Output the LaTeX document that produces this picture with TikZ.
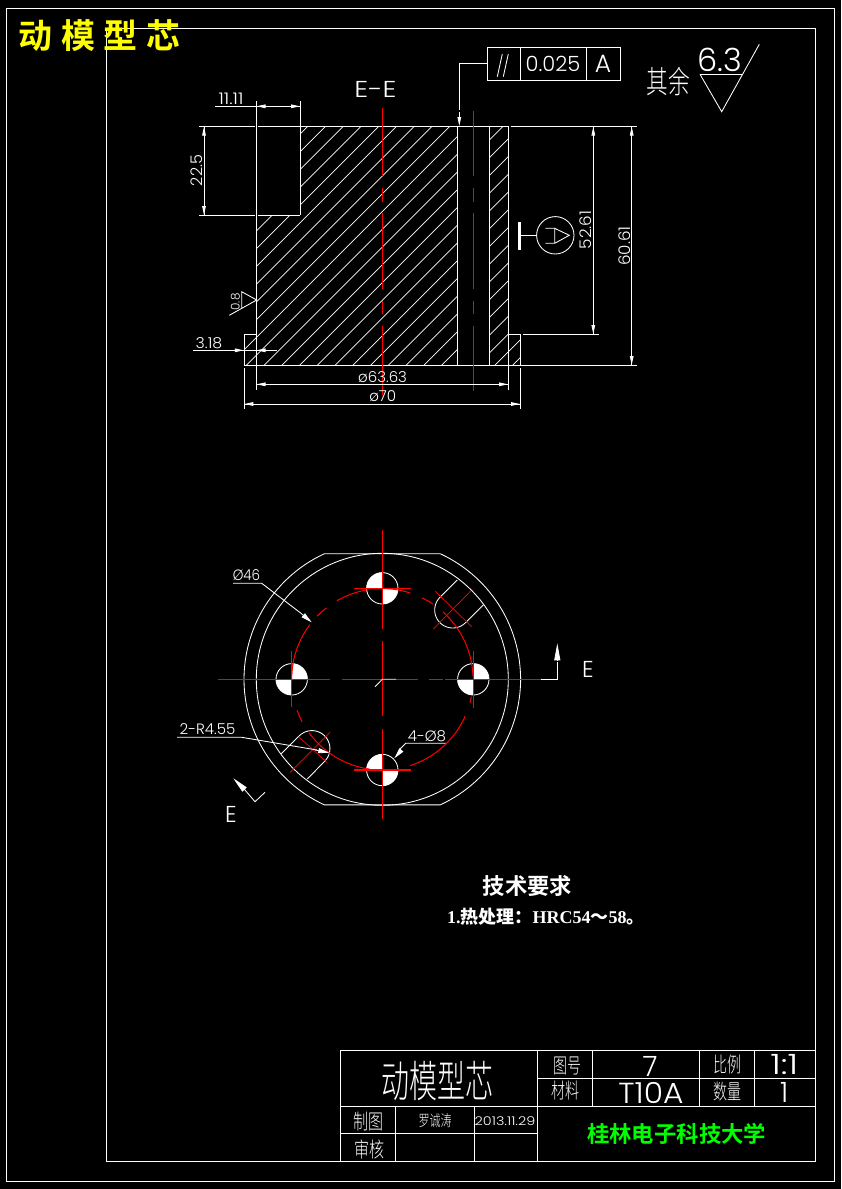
\documentclass[tikz,border=0pt]{standalone}
\usepackage{fontspec}
\usepackage{graphicx}
\usetikzlibrary{arrows.meta}
\newfontfamily\cad{Poppins Light}
\newfontfamily\cjkthin{Noto Sans CJK SC Light}
\newfontfamily\cjkbold{Noto Sans CJK SC Bold}
\newfontfamily\serifb{Liberation Serif}
\newcommand{\Fs}[1]{\fontsize{#1}{#1}\selectfont}
\newcommand{\Tx}[4]{\scalebox{#2}[#3]{\Fs{#1}#4}}
\newcommand{\RedArc}[2]{\draw[cthin] plot[domain=#1:#2,samples=30] ({382.3+90.7*cos(\x)},{679.3+90.7*sin(\x)});}
\newcommand{\Pie}[3]{\fill[white] (#1,#2) -- plot[domain=#3:#3+90,samples=16] ({#1+15.7*cos(\x)},{#2+15.7*sin(\x)}) -- cycle;}
\definecolor{cadred}{RGB}{255,0,0}
\definecolor{cadyellow}{RGB}{255,255,0}
\definecolor{cadgreen}{RGB}{0,255,0}
\tikzset{
  cadline/.style={white,line width=0.95pt},
  thinline/.style={white,line width=0.85pt},
  hatchline/.style={white,line width=0.7pt},
  dimline/.style={white,line width=0.9pt},
  cline/.style={cadred,line width=1.6pt},
  cthin/.style={cadred,line width=1pt},
  dimhead/.style={white,line width=0.9pt,-{Triangle[length=9pt,width=3.6pt]}},
  longhead/.style={white,line width=0.8pt,-{Triangle[length=11pt,width=5pt]}},
  cadtext/.style={white,inner sep=0pt,outer sep=0pt,font=\cad},
  cjktext/.style={white,inner sep=0pt,outer sep=0pt,font=\cjkthin},
}
\begin{document}
\begin{tikzpicture}[x=1pt,y=-1pt]
\useasboundingbox (0,0) rectangle (841,1189);
\fill[black] (0,0) rectangle (841,1189);
% frames
\draw[cadline] (6.5,8) rectangle (834,1181);
\draw[cadline] (106,28) rectangle (815,1161);
% hatch
\begin{scope}
\clip (300,126.3) -- (457.3,126.3) -- (457.3,365.3) -- (244,365.3) -- (244,334.3) -- (256.3,334.3) -- (256.3,215.3) -- (300.3,215.3) -- cycle
      (489.3,126.3) -- (508.3,126.3) -- (508.3,334.3) -- (520.3,334.3) -- (520.3,365.3) -- (489.3,365.3) -- cycle;
\foreach \n in {-1,...,27}{
  \pgfmathsetmacro{\kk}{434+17.75*\n}
  \draw[hatchline] ({\kk-400},400) -- ({\kk-100},100);
}
\end{scope}
% section outline
\draw[cadline] (199,126.3) -- (255,126.3) (257.5,126.3) -- (508.3,126.3) (510.5,126.3) -- (637,126.3);
\draw[cadline] (199,215.3) -- (255,215.3) (257.5,215.3) -- (300.3,215.3);
\draw[cadline] (256.3,101) -- (256.3,389.5);
\draw[cadline] (300.3,101) -- (300.3,215.3);
\draw[cadline] (457.3,126.3) -- (457.3,365.3);
\draw[cadline] (489.3,126.3) -- (489.3,365.3);
\draw[cadline] (508.3,126.3) -- (508.3,389.5);
\draw[cadline] (520.3,334.3) -- (520.3,365.3) (520.3,368) -- (520.3,409);
\draw[cadline] (244,334.3) -- (244,365.3) (244,368) -- (244,409);
\draw[cadline] (244,334.3) -- (256.3,334.3) (508.3,334.3) -- (520.3,334.3) (523,334.3) -- (599,334.3);
\draw[cadline] (244,365.3) -- (637,365.3);
% centre lines of the section
\draw[cline] (382.3,108) -- (382.3,175.7) (382.3,188) -- (382.3,201.7) (382.3,213) -- (382.3,289) (382.3,301) -- (382.3,313.7) (382.3,326) -- (382.3,395);
\draw[cthin] (473.3,111) -- (473.3,175.7) (473.3,188) -- (473.3,201.7) (473.3,213) -- (473.3,288.7) (473.3,301) -- (473.3,314) (473.3,326) -- (473.3,390.7);
% dimensions
\draw[dimline] (215,106.3) -- (300.3,106.3);
\draw[dimhead] (270,106.3) -- (256.5,106.3);
\draw[dimhead] (287,106.3) -- (300,106.3);
\node[cadtext] (d1111) at (231,98.5) {\Tx{16}{1.15}{1}{11.11}};
\draw[dimline] (204,126.3) -- (204,215.3);
\draw[dimhead] (204,140) -- (204,126.6);
\draw[dimhead] (204,201) -- (204,215);
\node[cadtext,rotate=90] (d225) at (197,170.5) {\Tx{16}{1}{1}{22.5}};
\draw[dimline] (193,350.3) -- (277,350.3);
\draw[dimhead] (231,350.3) -- (243.8,350.3);
\draw[dimhead] (269,350.3) -- (256.5,350.3);
\node[cadtext] (d318) at (209,343) {\Tx{15}{1.05}{1}{3.18}};
\draw[dimline] (256.3,384.3) -- (508.3,384.3);
\draw[dimhead] (270,384.3) -- (256.5,384.3);
\draw[dimhead] (495,384.3) -- (508,384.3);
\node[cadtext] (d6363) at (382.6,377.5) {\Tx{15}{1}{1}{ø63.63}};
\draw[dimline] (244,404) -- (520.3,404);
\draw[dimhead] (258,404) -- (244.3,404);
\draw[dimhead] (507,404) -- (520,404);
\node[cadtext] (d70) at (382.7,396.5) {\Tx{15}{1}{1}{ø70}};
\draw[dimline] (593.3,126.3) -- (593.3,334.3);
\draw[dimhead] (593.3,140) -- (593.3,126.6);
\draw[dimhead] (593.3,321) -- (593.3,334);
\node[cadtext,rotate=90] (d5261) at (586,230) {\Tx{16}{1.05}{1}{52.61}};
\draw[dimline] (631.7,126.3) -- (631.7,365.3);
\draw[dimhead] (631.7,140) -- (631.7,126.6);
\draw[dimhead] (631.7,352) -- (631.7,365);
\node[cadtext,rotate=90] (d6061) at (625,246) {\Tx{16}{1.05}{1}{60.61}};
\node[cadtext] (ee) at (375.5,89) {\Tx{23}{1.2}{1}{E-E}};
% tolerance frame
\draw[cadline] (487.3,47.3) rectangle (620.3,80.3);
\draw[cadline] (520.3,47.3) -- (520.3,80.3) (586.3,47.3) -- (586.3,80.3);
\draw[thinline] (497.3,76.7) -- (502.3,54) (503.3,76.7) -- (508.3,54);
\node[cadtext] (tolv) at (553,63.5) {\Tx{21}{1}{1}{0.025}};
\node[cadtext] (tola) at (603,63.5) {\Tx{25}{1}{1}{A}};
\draw[cadline] (487.3,63.3) -- (459.3,63.3) -- (459.3,110);
\draw[dimhead] (459.3,112) -- (459.3,126);
% roughness
\node[cjktext] (qiyu) at (668,82) {\Tx{24}{0.9}{1.3}{其余}};
\node[cadtext] (r63) at (720,60) {\Tx{32}{1}{1}{6.3}};
\draw[thinline] (700,74.3) -- (741.7,74.3);
\draw[thinline] (700,74.3) -- (721.7,111.7) -- (759.3,44.3);
% local roughness 0.8
\node[cadtext,rotate=90] (r08) at (235.5,302) {\Tx{12}{1}{1}{0.8}};
\draw[thinline] (229.3,315.3) -- (256.7,300) -- (241.7,291.7) -- (241.7,308.3);
% datum symbol
\draw[line width=3pt,white] (519.3,222) -- (519.3,250);
\draw[thinline] (519.3,235.3) -- (536.6,235.3);
\draw[thinline] (555.3,235.3) circle (18.7);
\draw[thinline] (545.3,228.3) -- (554.7,228.3) -- (569.3,235.3) -- (554.7,243.3) -- (545.3,243.3) (554.7,228.3) -- (554.7,243.3);
% plan view
\draw[thinline] plot[domain=-65.2:65.2,samples=60] ({382.3+138.3*cos(\x)},{679.3+138.3*sin(\x)}) -- plot[domain=114.8:245.2,samples=60] ({382.3+138.3*cos(\x)},{679.3+138.3*sin(\x)}) -- cycle;
\draw[thinline] (382.3,679.3) circle (126);
\foreach \cx/\cy/\aa/\ab in {382.3/588.3/180/0, 382.3/770/180/0, 291.7/679.3/270/90, 473.3/679.3/270/90}{
  \Pie{\cx}{\cy}{\aa}
  \Pie{\cx}{\cy}{\ab}
  \draw[thinline] (\cx,\cy) circle (15.7);
}
% slots
\draw[thinline] (457.3,580) -- (440,597.3) -- plot[domain=225:45,samples=30] ({452.7+18*cos(\x)},{610+18*sin(\x)}) -- (483.3,605);
\draw[thinline] (281.3,753.6) -- (299.2,735.9) -- plot[domain=225:405,samples=30] ({311.9+18*cos(\x)},{748.6+18*sin(\x)}) -- (307.3,779);
% red
\draw[cline] (382.3,530) -- (382.3,629.3) (382.3,641) -- (382.3,716) (382.3,729.3) -- (382.3,819.3);
\draw[cline,line width=1.2pt] (218,679.3) -- (330,679.3) (342,679.3) -- (382.3,679.3) (396,679.3) -- (418,679.3) (429,679.3) -- (442.7,679.3) (445,679.3) -- (541,679.3);
\draw[cline,line width=1.2pt] (354,588.3) -- (410.7,588.3) (354,770) -- (410.7,770);
\draw[cthin] (291.7,651) -- (291.7,706.7) (473.3,651) -- (473.3,708);
\RedArc{-100}{-120}
\RedArc{-128}{-136}
\RedArc{-143}{-178}
\RedArc{-72}{-90}
\RedArc{-64}{-56}
\RedArc{-48}{-2}
\RedArc{11}{15}
\RedArc{24}{72}
\RedArc{98}{144}
\RedArc{152}{160}
\RedArc{178}{190}
\draw[cthin,line width=0.7pt] (435,591) -- (471.7,626.7) (433.3,629) -- (471,590.7);
\draw[cthin,line width=0.7pt] (290,772.3) -- (330,732.3) (299.3,737.3) -- (327.3,762.7);
% white centre marks and section arrows
\draw[thinline] (375,686.7) -- (382.3,679.3) -- (396,679.3);
\draw[cadline] (541,679.3) -- (557.3,679.3) -- (557.3,662);
\draw[longhead,-{Triangle[length=17pt,width=6pt]}] (557.3,660) -- (557.3,643.3);
\node[cadtext] (eright) at (588,669) {\Tx{23}{1}{1}{E}};
\draw[thinline] (265,792.3) -- (255,801.7) -- (245,790);
\draw[longhead,-{Triangle[length=16pt,width=6pt]}] (245,790) -- (233.3,778.3);
\node[cadtext] (eleft) at (231,814) {\Tx{23}{1}{1}{E}};
% leaders
\node[cadtext] (l46) at (246.5,575.5) {\Tx{15}{0.9}{1}{Ø46}};
\draw[thinline] (233,583.3) -- (261.7,583.3) -- (300,612.5);
\draw[longhead] (300,612.5) -- (311.7,622.3);
\node[cadtext] (l455) at (207.5,729.5) {\Tx{15}{1}{1}{2-R4.55}};
\draw[thinline] (177,737.3) -- (241.7,737.3) -- (317,750);
\draw[longhead] (315,750) -- (329.3,752.7);
\node[cadtext] (l8) at (427,736) {\Tx{15}{1}{1}{4-Ø8}};
\draw[thinline] (445.7,743.3) -- (405.7,743.3) -- (400,749);
\draw[longhead] (401,750.5) -- (394.3,758.3);
% notes
\node[white,inner sep=0pt,font=\cjkbold] (tech) at (527.5,886) {\Fs{22.3}技术要求};
\node[white,inner sep=0pt,anchor=west] (tech1) at (447,916.5) {\Fs{18}\serifb\bfseries 1.{\cjkbold 热处理：}HRC54{\cjkbold ～}58{\cjkbold 。}};
% title block
\draw[cadline] (340.5,1050.3) rectangle (815,1161);
\draw[cadline] (340.5,1106.3) -- (815,1106.3);
\draw[cadline] (340.5,1133.3) -- (537.3,1133.3);
\draw[cadline] (537.3,1078.3) -- (815,1078.3);
\draw[cadline] (395.3,1106.3) -- (395.3,1161) (474.3,1106.3) -- (474.3,1161) (537.3,1050.3) -- (537.3,1161);
\draw[cadline] (592.3,1050.3) -- (592.3,1106.3) (699.3,1050.3) -- (699.3,1106.3) (754.3,1050.3) -- (754.3,1106.3);
\node[cjktext] (tname) at (437,1081) {\Tx{28}{1}{1.55}{动模型芯}};
\node[cjktext] (t1) at (567.7,1065.5) {\Tx{14}{1}{1.5}{图号}};
\node[cjktext] (t2) at (565,1091) {\Tx{14}{1}{1.5}{材料}};
\node[cadtext] (t3) at (650,1066) {\Tx{28}{1}{1}{7}};
\node[cadtext] (t4) at (651,1092.5) {\Tx{29}{1.08}{1}{T10A}};
\node[cjktext] (t5) at (727.3,1065) {\Tx{14}{1}{1.5}{比例}};
\node[cadtext] (t6) at (784.3,1065) {\Tx{28}{1.3}{1}{1:1}};
\node[cjktext] (t7) at (727.3,1091.5) {\Tx{14}{1}{1.5}{数量}};
\node[cadtext] (t8) at (784.3,1092) {\Tx{28}{1}{1}{1}};
\node[cjktext] (t9) at (368.3,1122) {\Tx{15}{1}{1.4}{制图}};
\node[cjktext] (t10) at (369.3,1149) {\Tx{15}{1}{1.4}{审核}};
\node[cjktext] (t11) at (435,1121) {\Tx{11}{1}{1.4}{罗诚涛}};
\node[cadtext] (t12) at (505,1121.5) {\Tx{12}{1.2}{1}{2013.11.29}};
\node[cadgreen,inner sep=0pt,font=\cjkbold] (uni) at (676.7,1134) {\Fs{22.4}桂林电子科技大学};
% drawing title
\node[cadyellow,inner sep=0pt,font=\cjkbold] (ttl) at (99.5,36) {\Fs{34}动\hspace{8.5pt}模\hspace{8.5pt}型\hspace{8.5pt}芯};
\end{tikzpicture}
\end{document}
